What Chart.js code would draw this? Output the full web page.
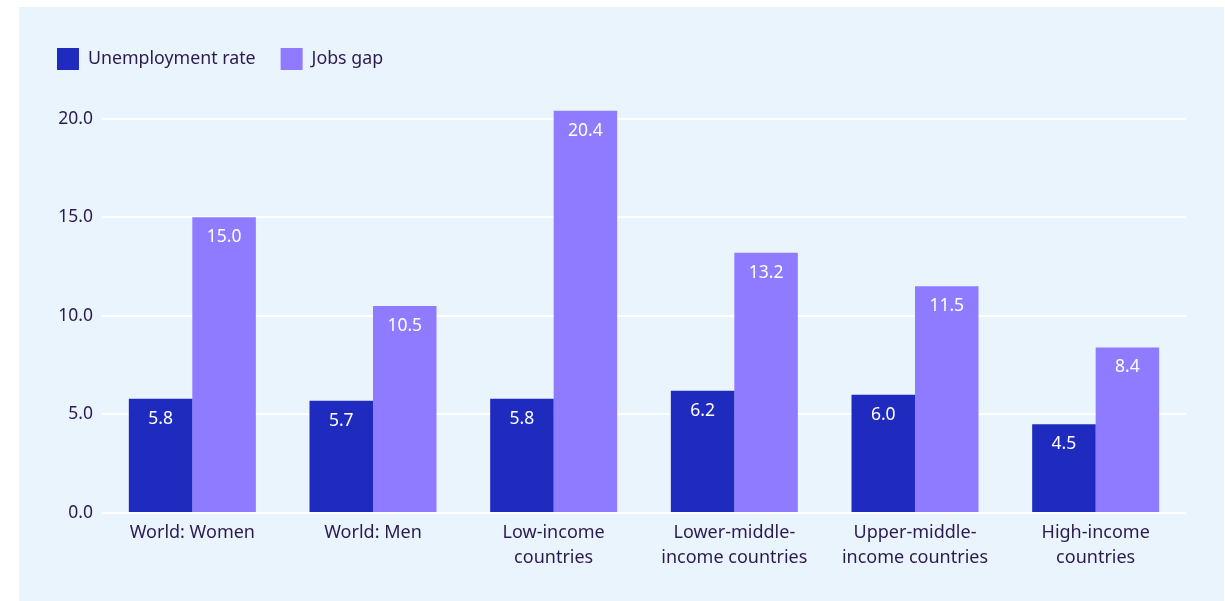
<!DOCTYPE html>
<html>
<head>
<meta charset="utf-8">
<script src="https://cdn.jsdelivr.net/npm/chart.js@4.4.0/dist/chart.umd.min.js"></script>
<style>
  html, body { margin: 0; padding: 0; background: #ffffff; }
  #panel { position: absolute; left: 19px; top: 7px; width: 1205px; height: 594px; background: #eaf4fd; }
  #chart { display: block; }
</style>
</head>
<body>
<div id="panel"><canvas id="chart" width="1205" height="594"></canvas></div>
<script>
// categorias e valores
var categories = [
    "World: Women",
    "World: Men",
    ["Low-income", "countries"],
    ["Lower-middle-", "income countries"],
    ["Upper-middle-", "income countries"],
    ["High-income", "countries"]
];
var unemploymentRate = [5.8, 5.7, 5.8, 6.2, 6.0, 4.5];
var jobsGap = [15.0, 10.5, 20.4, 13.2, 11.5, 8.4];
var yTicks = [0, 5, 10, 15, 20];

var textColor = '#2b1a4f';

// rótulos brancos dentro das barras
var barLabels = {
    id: 'barLabels',
    afterDatasetsDraw: function(chart){
        var ctx = chart.ctx;
        ctx.save();
        ctx.fillStyle = '#ffffff';
        ctx.font = '17.5px "Noto Sans"';
        ctx.textAlign = 'center';
        ctx.textBaseline = 'middle';
        chart.data.datasets.forEach(function(ds, i){
            chart.getDatasetMeta(i).data.forEach(function(bar, j){
                ctx.fillText(ds.data[j].toFixed(1), bar.x, bar.y + 20);
            });
        });
        ctx.restore();
    }
};

// espaço extra abaixo da legenda
var legendGap = {
    id: 'legendGap',
    beforeInit: function(chart){
        var fitOrig = chart.legend.fit;
        chart.legend.fit = function(){
            fitOrig.call(this);
            this.height += 19;
        };
    }
};

var data = {
    labels: categories,
    datasets: [{
        label: "Unemployment rate",
        data: unemploymentRate,
        backgroundColor: '#1f2bbe'
    }, {
        label: "Jobs gap",
        data: jobsGap,
        backgroundColor: '#8f7bff'
    }]
};

var config = {
    type: 'bar',
    data: data,
    plugins: [barLabels, legendGap],
    options: {
        responsive: false,
        animation: false,
        categoryPercentage: 0.703,
        barPercentage: 1.0,
        layout: { padding: { top: 16, right: 38, bottom: 0, left: 13 } },
        plugins: {
            tooltip: { enabled: false },
            legend: {
                align: 'start',
                labels: {
                    boxWidth: 22,
                    boxHeight: 22,
                    padding: 25,
                    color: textColor,
                    font: { family: 'Noto Sans', size: 17.8 }
                }
            }
        },
        scales: {
            x: {
                grid: { display: false, drawTicks: false },
                border: { display: false },
                ticks: {
                    color: textColor,
                    padding: 7,
                    maxRotation: 0,
                    autoSkip: false,
                    font: { family: 'Noto Sans', size: 18, lineHeight: 1.39 }
                },
                afterFit: function(scale){ scale.height = 88; }
            },
            y: {
                min: 0,
                max: 21,
                grid: { color: '#ffffff', lineWidth: 2, drawTicks: false },
                border: { display: false },
                afterBuildTicks: function(scale){
                    scale.ticks = yTicks.map(function(v){ return { value: v }; });
                },
                ticks: {
                    color: textColor,
                    padding: 9,
                    font: { family: 'Noto Sans', size: 17.5 },
                    callback: function(v){ return Number(v).toFixed(1); }
                },
                afterFit: function(scale){ scale.width = 70; }
            }
        }
    }
};

var grafico = new Chart(document.getElementById("chart"), config);
</script>
</body>
</html>
